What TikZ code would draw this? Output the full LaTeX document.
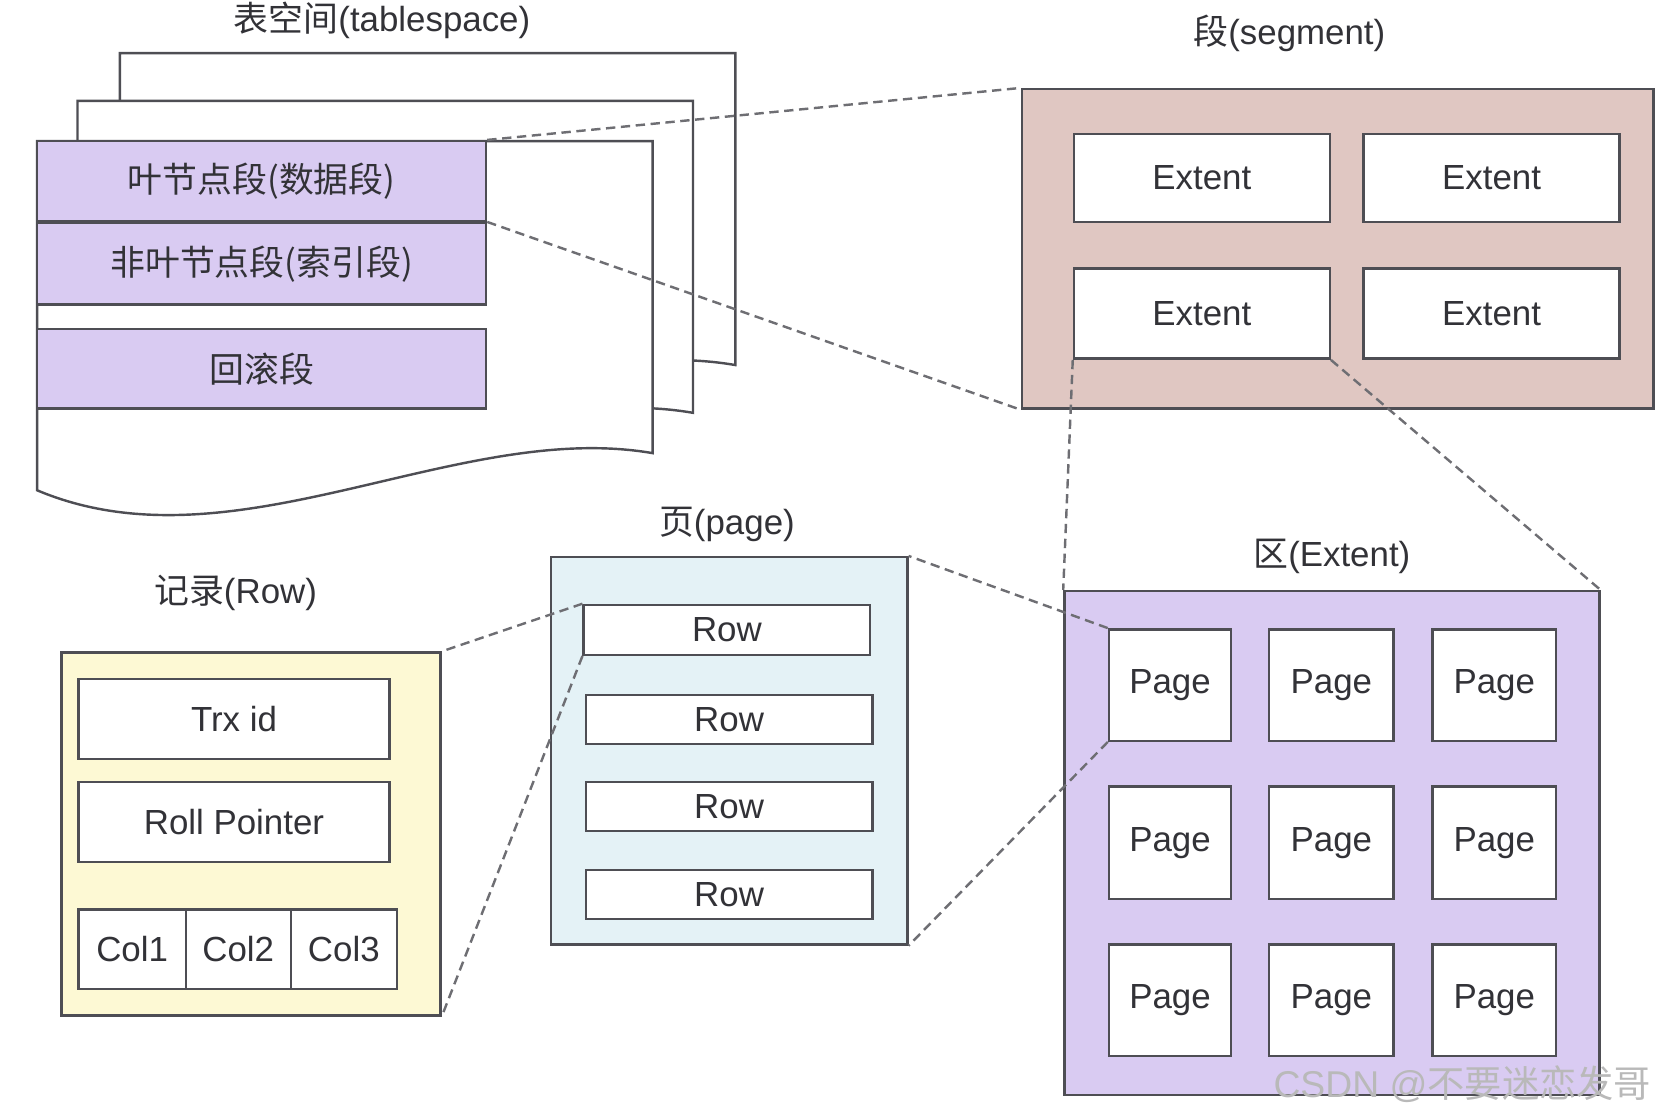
\documentclass[tikz,border=0pt]{standalone}
\usepackage{fontspec}
\setmainfont{Liberation Sans}
\newfontfamily\cjk{Noto Sans CJK SC}
\usetikzlibrary{fit}
\definecolor{bordc}{RGB}{78,78,84}
\definecolor{txtc}{RGB}{50,50,55}
\definecolor{purp}{RGB}{217,203,242}
\definecolor{segc}{RGB}{224,199,194}
\definecolor{pagec}{RGB}{228,242,246}
\definecolor{recc}{RGB}{253,249,212}
\definecolor{dashc}{RGB}{110,110,115}
\newcommand\lblfont{\fontsize{18.7}{22}\selectfont}
\begin{document}
\begin{tikzpicture}[x=0.02cm,y=-0.02cm,
  box/.style={draw=bordc, line width=1.3pt, fill=white, inner sep=0pt},
  bar/.style={box, fill=purp},
  frame/.style={draw=bordc, line width=1.3pt, inner sep=0pt},
  ttl/.style={text=txtc, font=\lblfont, inner sep=0pt},
  txt/.style={label={[ttl]center:#1}},
  sheet/.style={draw=bordc, line width=1.3pt, fill=white},
  link/.style={draw=dashc, line width=1.3pt, dash pattern=on 5pt off 3pt}]
\useasboundingbox (0,0) rectangle (1568,1048);

% tablespace sheets
\begin{scope}[shift={(78,-83)}]
\path[sheet] (35,133) -- (615,133) -- (615,427) .. controls (430,395) and (220,540) .. (35,462) -- cycle;
\end{scope}
\begin{scope}[shift={(38,-38)}]
\path[sheet] (35,133) -- (615,133) -- (615,427) .. controls (430,395) and (220,540) .. (35,462) -- cycle;
\end{scope}
\path[sheet] (35,133) -- (615,133) -- (615,427) .. controls (430,395) and (220,540) .. (35,462) -- cycle;

\node[bar, fit={(35,133)(458,208)}, txt={\cjk 叶节点段(数据段)}] (b1) {};
\node[bar, fit={(35,210)(458,287)}, txt={\cjk 非叶节点段(索引段)}] (b2) {};
\node[bar, fit={(35,310)(458,385)}, txt={\cjk 回滚段}] (b3) {};

\node[ttl] (tst) at (360,19) {{\cjk 表空间}(tablespace)};

% segment
\node[ttl] (segt) at (1215,31) {{\cjk 段}(segment)};
\node[frame, fill=segc, fit={(963,84)(1558,385)}] (seg) {};
\node[box, fit={(1012,126)(1253,209)}, txt=Extent] (e1) {};
\node[box, fit={(1285,126)(1526,209)}, txt=Extent] (e2) {};
\node[box, fit={(1012,253)(1253,338)}, txt=Extent] (e3) {};
\node[box, fit={(1285,253)(1526,338)}, txt=Extent] (e4) {};

% extent
\node[ttl] (qut) at (1255,524) {{\cjk 区}(Extent)};
\node[frame, fill=purp, fit={(1003,557)(1507,1032)}] (qu) {};
\foreach \r/\ya/\yb in {1/593/698, 2/741/847, 3/890/995}{
  \foreach \c/\xa/\xb in {1/1045/1160, 2/1196/1313, 3/1350/1466}{
    \node[box, fit={(\xa,\ya)(\xb,\yb)}, txt=Page] (pg\r\c) {};
  }
}

% page
\node[ttl] (pgt) at (685,494) {{\cjk 页}(page)};
\node[frame, fill=pagec, fit={(519,525)(855,890)}] (pb) {};
\node[box, fit={(550,570)(820,617)}, txt=Row] (r1) {};
\node[box, fit={(552,655)(822,701)}, txt=Row] (r2) {};
\node[box, fit={(552,737)(822,783)}, txt=Row] (r3) {};
\node[box, fit={(552,820)(822,866)}, txt=Row] (r4) {};

% record
\node[ttl] (rect) at (222,559) {{\cjk 记录}(Row)};
\node[frame, fill=recc, fit={(58,615)(415,957)}] (rec) {};
\node[box, fit={(74,640)(367,715)}, txt=Trx id] (trx) {};
\node[box, fit={(74,737)(367,812)}, txt=Roll Pointer] (roll) {};
\node[box, fit={(74,857)(175,932)}, txt=Col1] (c1) {};
\node[box, fit={(175,857)(274,932)}, txt=Col2] (c2) {};
\node[box, fit={(274,857)(374,932)}, txt=Col3] (c3) {};

% connectors
\draw[link] (b1.north east) -- (seg.north west);
\draw[link] (b1.south east) -- (seg.south west);
\draw[link] (e3.south west) -- (qu.north west);
\draw[link] (e3.south east) -- (qu.north east);
\draw[link] (pg11.north west) -- (pb.north east);
\draw[link] (pg11.south west) -- (pb.south east);
\draw[link] (r1.north west) -- (rec.north east);
\draw[link] (r1.south west) -- (rec.south east);

\node[text=gray!55, font=\fontsize{20}{24}\selectfont, inner sep=0pt] (wm) at (1378,1022) {CSDN @{\cjk 不要迷恋发哥}};
\end{tikzpicture}
\end{document}
